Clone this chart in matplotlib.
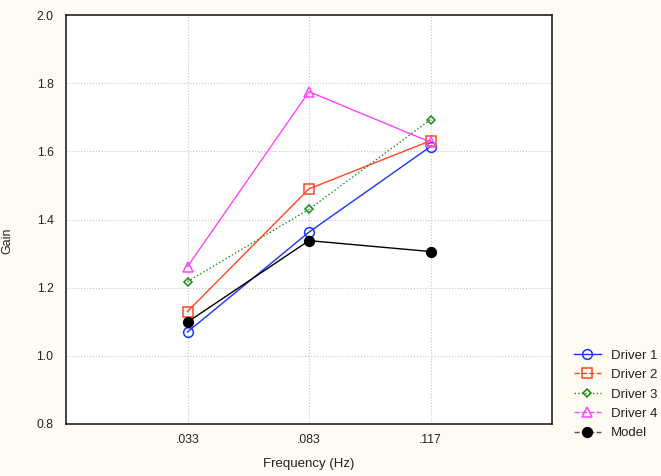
import matplotlib
matplotlib.use("Agg")
import matplotlib.pyplot as plt
from matplotlib.lines import Line2D

plt.rcParams['font.family'] = ['Liberation Sans', 'DejaVu Sans']

freq_labels = [".033", ".083", ".117"]
driver1 = [1.070, 1.363, 1.614]
driver2 = [1.130, 1.490, 1.631]
driver3 = [1.218, 1.430, 1.693]
driver4 = [1.262, 1.775, 1.627]
model = [1.099, 1.338, 1.306]
y_ticks = [0.8, 1.0, 1.2, 1.4, 1.6, 1.8, 2.0]

bg = '#fdfbf2'
fig = plt.figure(figsize=(6.61, 4.76), dpi=100, facecolor=bg)
ax = fig.add_axes([66/661, 1-424/476, (552-66)/661, (424-15)/476])
ax.set_facecolor('white')

x = list(range(len(freq_labels)))
series = [
    ("Driver 1", driver1, '#1a33ff', 'o', 7, '-', '-'),
    ("Driver 2", driver2, '#ff4422', 's', 6.5, '-', '--'),
    ("Driver 3", driver3, '#1a8c1a', 'D', 4, ':', ':'),
    ("Driver 4", driver4, '#ff44ff', '^', 7, '-', '--'),
    ("Model", model, 'black', 'o', 7, '-', '--'),
]
handles = []
for name, vals, col, mk, ms, ls, lls in series:
    fill = col if name == "Model" else 'none'
    ax.plot(x, vals, color=col, linestyle=ls, linewidth=1.0, marker=mk,
            markersize=ms, markerfacecolor=fill, markeredgecolor=col,
            markeredgewidth=1.1, zorder=3)
    handles.append(Line2D([], [], color=('#555555' if name == "Model" else col),
                          linestyle=lls, linewidth=1.0, marker=mk, markersize=ms,
                          markerfacecolor=fill, markeredgecolor=col,
                          markeredgewidth=1.1))

ax.set_xlim(-1, 3)
ax.set_ylim(0.8, 2.0)
ax.set_xticks(x)
ax.set_xticklabels(freq_labels)
ax.set_yticks(y_ticks)
ax.set_yticklabels([f"{v:.1f}" for v in y_ticks])
ax.grid(True, color='#c4c4c4', linestyle=':', linewidth=0.8)
ax.set_axisbelow(True)
ax.tick_params(length=0, labelsize=8.8, colors='#222222')
ax.tick_params(axis='y', pad=9)
ax.tick_params(axis='x', pad=7)
for s in ax.spines.values():
    s.set_linewidth(1.1)
    s.set_color('#111111')

ax.set_xlabel("Frequency (Hz)", fontsize=9.5, labelpad=9, color='#222222')
fig.text(1/661, 1-241/476, "Gain", rotation=90, fontsize=9, ha='left', va='center',
         color='#222222')

leg = fig.legend(handles, [s[0] for s in series], loc='upper left',
                 bbox_to_anchor=(569/661, 1-344/476), frameon=False,
                 fontsize=9.5, handlelength=2.0, handletextpad=0.8,
                 labelspacing=0.55, borderaxespad=0)
for t in leg.get_texts():
    t.set_color('#222222')

fig.savefig("out.png", dpi=100, facecolor=bg)
